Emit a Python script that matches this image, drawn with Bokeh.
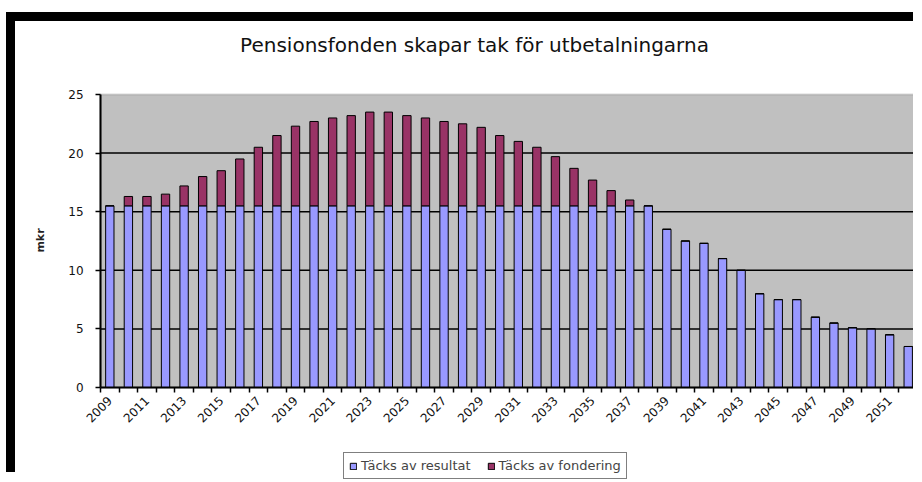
import math
from bokeh.plotting import figure
from bokeh.models import (FixedTicker, Legend, LegendItem, ColumnDataSource,
                          BoxAnnotation, Label)
from bokeh.embed import file_html
from bokeh.resources import INLINE

# ---- data -------------------------------------------------------------
years = [2009, 2010, 2011, 2012, 2013, 2014, 2015, 2016, 2017, 2018, 2019,
         2020, 2021, 2022, 2023, 2024, 2025, 2026, 2027, 2028, 2029, 2030,
         2031, 2032, 2033, 2034, 2035, 2036, 2037, 2038, 2039, 2040, 2041,
         2042, 2043, 2044, 2045, 2046, 2047, 2048, 2049, 2050, 2051, 2052]

tacks_av_resultat = [15.5, 15.5, 15.5, 15.5, 15.5, 15.5, 15.5, 15.5, 15.5, 15.5,
                     15.5, 15.5, 15.5, 15.5, 15.5, 15.5, 15.5, 15.5, 15.5, 15.5,
                     15.5, 15.5, 15.5, 15.5, 15.5, 15.5, 15.5, 15.5, 15.5, 15.5,
                     13.5, 12.5, 12.3, 11.0, 10.0, 8.0, 7.5, 7.5, 6.0, 5.5,
                     5.1, 5.0, 4.5, 3.5]

tacks_av_fondering = [0.0, 0.8, 0.8, 1.0, 1.7, 2.5, 3.0, 4.0, 5.0, 6.0,
                      6.8, 7.2, 7.5, 7.7, 8.0, 8.0, 7.7, 7.5, 7.2, 7.0,
                      6.7, 6.0, 5.5, 5.0, 4.2, 3.2, 2.2, 1.3, 0.5, 0.0,
                      0.0, 0.0, 0.0, 0.0, 0.0, 0.0, 0.0, 0.0, 0.0, 0.0,
                      0.0, 0.0, 0.0, 0.0]

label_years = [2009, 2011, 2013, 2015, 2017, 2019, 2021, 2023, 2025, 2027, 2029,
               2031, 2033, 2035, 2037, 2039, 2041, 2043, 2045, 2047, 2049, 2051]

y_ticks = [0, 5, 10, 15, 20, 25]
grid_values = [5, 10, 15, 20]

title_text = "Pensionsfonden skapar tak för utbetalningarna"
y_label = "mkr"
series_names = ["Täcks av resultat", "Täcks av fondering"]
series_colors = ["#9999FF", "#993366"]

# ---- figure -----------------------------------------------------------
FONT = "DejaVu Sans"
Y_MAX = 25
X_MIN = years[0] - 0.5
X_MAX = years[-1] + 0.5
# the frame covers the whole canvas; extra room around the value area
Y_BELOW = -8.02
Y_ABOVE = 31.23
X_LEFT = X_MIN - 4.58

src = ColumnDataSource(dict(year=years, res=tacks_av_resultat, fond=tacks_av_fondering))
grid_src = ColumnDataSource(dict(y=grid_values,
                                 x0=[X_MIN] * len(grid_values),
                                 x1=[X_MAX] * len(grid_values)))

p = figure(width=907, height=460, output_backend="svg", toolbar_location=None,
           x_range=(X_LEFT, X_MAX), y_range=(Y_BELOW, Y_ABOVE),
           min_border_left=0, min_border_right=5, min_border_top=0,
           min_border_bottom=0)
p.title = None

p.styles = {"margin-top": "12px", "margin-left": "6px",
            "border-top": "9px solid black", "border-left": "9px solid black"}

p.background_fill_color = "white"
p.border_fill_color = "white"
p.outline_line_color = None

# grey plot area
plot_area = BoxAnnotation(left=X_MIN, right=X_MAX, bottom=0, top=Y_MAX,
                          fill_color="#C0C0C0", fill_alpha=1,
                          line_color="#808080", line_width=2, level="underlay")
p.add_layout(plot_area)

# horizontal grid lines limited to the plot area
p.segment(x0="x0", x1="x1", y0="y", y1="y", source=grid_src,
          line_color="black", line_width=1.5)

renderers = p.vbar_stack(["res", "fond"], x="year", width=0.45, source=src,
                         fill_color=series_colors, line_color="black", line_width=1)

# x axis drawn at value 0
xa = p.below[0]
xa.fixed_location = 0
xa.bounds = (X_MIN, X_MAX)
xa.ticker = FixedTicker(ticks=label_years,
                        minor_ticks=[y - 0.5 for y in years] + [X_MAX])
xa.major_tick_out = 0
xa.major_tick_in = 0
xa.minor_tick_out = 5
xa.minor_tick_in = 0
xa.minor_tick_line_color = "black"
xa.minor_tick_line_width = 1.5
xa.axis_line_color = "black"
xa.axis_line_width = 2
xa.major_label_orientation = math.pi / 4
xa.major_label_text_font = FONT
xa.major_label_text_font_size = "12px"
xa.major_label_text_color = "#111111"
xa.major_label_standoff = 6

# y axis drawn at the left edge of the plot area
ya = p.left[0]
ya.fixed_location = X_MIN
ya.bounds = (0, Y_MAX)
ya.ticker = FixedTicker(ticks=y_ticks)
ya.minor_tick_out = 0
ya.minor_tick_in = 0
ya.major_tick_out = 5
ya.major_tick_in = 0
ya.major_tick_line_width = 1.5
ya.axis_line_color = "black"
ya.axis_line_width = 2
ya.major_label_text_font = FONT
ya.major_label_text_font_size = "12px"
ya.major_label_text_color = "#111111"
ya.major_label_standoff = 12

p.xgrid.visible = False
p.ygrid.visible = False

# title and axis title
p.add_layout(Label(x=459, y=437, x_units="screen", y_units="screen",
                   text=title_text, text_align="center", text_baseline="middle",
                   text_font=FONT, text_font_size="20px", text_color="#111111"))
p.add_layout(Label(x=25, y=241, x_units="screen", y_units="screen",
                   text=y_label, angle=math.pi / 2, text_align="center",
                   text_baseline="middle", text_font=FONT, text_font_size="11px",
                   text_font_style="bold", text_color="#222222"))

legend = Legend(items=[LegendItem(label=series_names[0], renderers=[renderers[0]]),
                       LegendItem(label=series_names[1], renderers=[renderers[1]])],
                orientation="horizontal", location=(328, 2))
legend.label_text_font = FONT
legend.label_text_font_size = "13px"
legend.glyph_width = 8
legend.glyph_height = 8
legend.label_standoff = 4
legend.spacing = 16
legend.padding = 5
legend.margin = 0
legend.label_height = 14
legend.border_line_color = "black"
legend.border_line_width = 1.5
legend.background_fill_color = "white"
legend.background_fill_alpha = 1
p.add_layout(legend, "center")

open("out.html", "w").write(file_html(p, INLINE))
